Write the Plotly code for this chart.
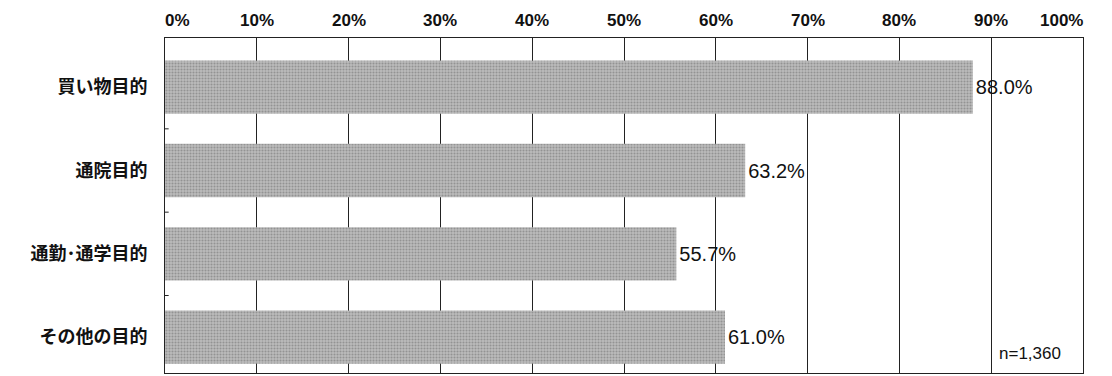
import plotly.graph_objects as go

categories = ["買い物目的", "通院目的", "通勤･通学目的", "その他の目的"]
values = [88.0, 63.2, 55.7, 61.0]
value_labels = ["88.0%", "63.2%", "55.7%", "61.0%"]
tick_vals = [0, 10, 20, 30, 40, 50, 60, 70, 80, 90, 100]
tick_text = ["0%", "10%", "20%", "30%", "40%", "50%", "60%", "70%", "80%", "90%", "100%"]
sample_note = "n=1,360"

fig = go.Figure()
fig.add_trace(go.Bar(
    y=categories, x=values, orientation="h",
    width=0.64,
    marker=dict(color="#ababab",
                line=dict(width=0),
                pattern=dict(shape=".", fgcolor="#6a6a6a", bgcolor="#bcbcbc", size=3, solidity=0.4)),
    text=value_labels, textposition="outside", cliponaxis=False,
    textfont=dict(family="Liberation Sans, Arial", size=20, color="#111"),
))

annotations = []
# top tick labels (end labels nudged inward as in the original)
for v, t in zip(tick_vals, tick_text):
    shift = 12 if v == tick_vals[0] else (-22 if v == tick_vals[-1] else 0)
    annotations.append(dict(text=t, x=v, xref="x", y=1, yref="paper", yanchor="bottom",
                            xanchor="center", xshift=shift, yshift=6, showarrow=False,
                            font=dict(family="Liberation Sans, Arial", size=17, color="#111",
                                      weight="bold")))
annotations.append(dict(text=sample_note, x=1.0, xref="paper", y=3.2, yref="y",
                        xanchor="right", xshift=-20, showarrow=False,
                        font=dict(family="Liberation Sans, Arial", size=17, color="#111")))

fig.update_layout(
    width=1104, height=368,
    margin=dict(l=157, r=29, t=30, b=3),
    paper_bgcolor="white", plot_bgcolor="white",
    showlegend=False,
    xaxis=dict(side="top", range=[0, 100], tickvals=tick_vals, showticklabels=False,
               automargin=False,
               showgrid=True, gridcolor="#222", gridwidth=1,
               showline=True, linecolor="#222", linewidth=1, mirror=True,
               ticks="inside", ticklen=8, tickcolor="#222",
               zeroline=False, fixedrange=True),
    yaxis=dict(autorange=False, range=[3.43, -0.59], categoryorder="array", categoryarray=categories,
               automargin=False,
               showline=True, linecolor="#222", linewidth=1, mirror=True,
               ticks="", ticklabelstandoff=13,
               tickfont=dict(family="Noto Sans CJK JP", size=18, color="#111", weight="bold"),
               showgrid=False, zeroline=False),
    annotations=annotations,
)

# small ticks between categories on the left axis
for yb in [0.5, 1.5, 2.5]:
    fig.add_shape(type="line", xref="x", yref="y", x0=0, x1=0.4, y0=yb, y1=yb,
                  line=dict(color="#222", width=1))

fig.write_html("out.html")
